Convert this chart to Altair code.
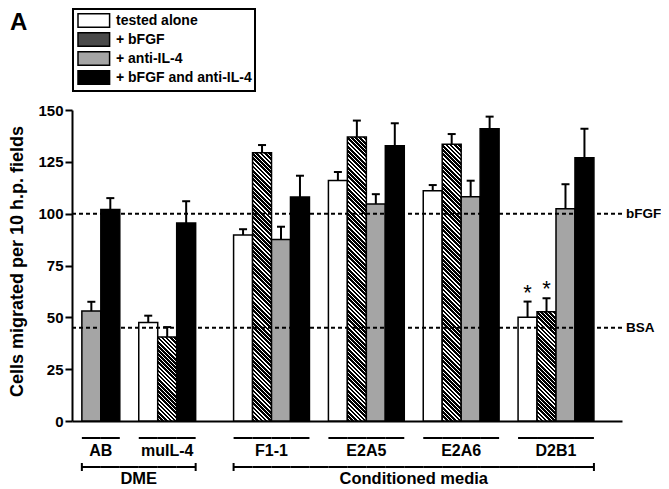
import altair as alt
import pandas as pd

# ---------------- data ----------------
groups = ["AB", "muIL-4", "F1-1", "E2A5", "E2A6", "D2B1"]
group_section = ["DME", "DME", "Conditioned media", "Conditioned media",
                 "Conditioned media", "Conditioned media"]
series = ["tested alone", "+ bFGF", "+ anti-IL-4", "+ bFGF and anti-IL-4"]

tested_alone      = [None, 47.5, 89.7, 116.0, 111.0, 50.0]
tested_alone_err  = [None, 3.3, 2.8, 4.1, 2.8, 7.6]
with_bfgf         = [None, 40.5, 129.4, 137.0, 133.5, 52.7]
with_bfgf_err     = [None, 4.8, 3.7, 7.9, 4.9, 6.5]
with_anti_il4     = [53.0, None, 87.6, 104.7, 108.2, 102.4]
with_anti_il4_err = [4.5, None, 6.1, 4.7, 7.7, 11.8]
with_both         = [102.0, 95.5, 108.0, 132.7, 141.0, 127.0]
with_both_err     = [5.5, 10.5, 10.3, 10.9, 5.8, 13.9]

significant = [("D2B1", "tested alone"), ("D2B1", "+ bFGF")]

ref_labels = ["bFGF", "BSA"]
ref_values = [100, 45]

y_ticks = [0, 25, 50, 75, 100, 125, 150]
y_title = "Cells migrated per 10 h.p. fields"
panel_label = "A"

# ---------------- layout / style ----------------
PLOT_W, PLOT_H, Y_MAX = 550, 311, 150
PAD_OUTER, ALIGN = 1, 0.26
FONT = "Liberation Sans"
fill_colors = ["#ffffff", "#4a4a4a", "#a5a5a5", "#000000"]

values = [tested_alone, with_bfgf, with_anti_il4, with_both]
errors = [tested_alone_err, with_bfgf_err, with_anti_il4_err, with_both_err]

rows, slot_domain, group_slots = [], [], {}
prev_sec, gap_n = None, 0
for gi, g in enumerate(groups):
    sec = group_section[gi]
    if gi > 0:
        for _ in range(1 if sec == prev_sec else 2):
            slot_domain.append(f"gap{gap_n}")
            gap_n += 1
    k = 0
    group_slots[g] = []
    for si, s in enumerate(series):
        v = values[si][gi]
        if v is None:
            continue
        slot = f"{g}|{k}"
        k += 1
        slot_domain.append(slot)
        group_slots[g].append(slot)
        e = errors[si][gi]
        rows.append(dict(group=g, section=sec, series=s, slot=slot, value=v,
                         err=e, top=v + e, sig=(g, s) in significant))
    prev_sec = sec
bars_df = pd.DataFrame(rows)

# section spans (contiguous slots incl. gaps inside a section)
sections = []
for sec in dict.fromkeys(group_section):
    idx = [slot_domain.index(sl) for g, gs in zip(groups, group_section) if gs == sec
           for sl in group_slots[g]]
    sections.append((sec, slot_domain[min(idx):max(idx) + 1]))

bracket_df = pd.DataFrame([dict(section=s, slot=sl) for s, span in sections for sl in span])
ends_df = pd.DataFrame([dict(section=s, first=span[0], last=span[-1]) for s, span in sections])


def anchor(slots):
    n = len(slots)
    return slots[n // 2], (0 if n % 2 == 0 else 0.5)


label_rows = []
for g in groups:
    a, bp = anchor(group_slots[g])
    label_rows.append(dict(text=g, anchor=a, bp=bp, kind="group"))
for s, span in sections:
    a, bp = anchor(span)
    label_rows.append(dict(text=s, anchor=a, bp=bp, kind="section"))
labels_df = pd.DataFrame(label_rows)

ref_df = pd.DataFrame({"label": ref_labels, "value": ref_values})
panel_df = pd.DataFrame({"panel": [panel_label]})

# ---------------- hatch gradients for "+ bFGF" bars ----------------
step = PLOT_W / (len(slot_domain) + 2 * PAD_OUTER)


def hatch(w, h, period=4.2, ink=0.64):
    k = (w + h) / (w * w + h * h)
    n = max(1, round((w + h) / period))
    stops = []
    for i in range(n):
        a, b, c = i / n, (i + ink) / n, (i + 1) / n
        stops += [{"offset": a, "color": "#000000"}, {"offset": b, "color": "#000000"},
                  {"offset": b, "color": "#ffffff"}, {"offset": c, "color": "#ffffff"}]
    return {"gradient": "linear", "x1": 0, "y1": 1, "x2": k * w, "y2": 1 - k * h,
            "stops": stops}


hatch_conditions = []
for r in rows:
    if r["series"] == "+ bFGF":
        h = r["value"] / Y_MAX * PLOT_H
        hatch_conditions.append({"test": f"datum.slot === '{r['slot']}'",
                                 "value": hatch(step, h)})

# ---------------- chart ----------------
x_scale = alt.Scale(domain=slot_domain, paddingInner=0, paddingOuter=PAD_OUTER, align=ALIGN)
y_scale = alt.Scale(domain=[0, Y_MAX], nice=False)

x_axis = alt.Axis(labels=False, ticks=False, title=None, grid=False,
                  domainColor="black", domainWidth=2)
y_axis = alt.Axis(values=y_ticks, title=y_title, grid=False, domainColor="black",
                  domainWidth=2, tickColor="black", tickWidth=2, tickSize=7,
                  labelPadding=2, labelFontSize=15, labelFontWeight="bold",
                  labelColor="black", titleFontSize=18, titleFontWeight="bold",
                  titleColor="black", titleX=-46, titleY=151, titleAngle=270,
                  titleBaseline="bottom", titleAlign="center")

legend = alt.Legend(orient="none", legendX=1, legendY=-101, title=None,
                    symbolType="M-0.84,-0.87H3.24V0.87H-0.84Z", symbolSize=240,
                    symbolStrokeColor="black", symbolStrokeWidth=1.5, symbolOpacity=1,
                    labelFontSize=14, labelFontWeight="bold", labelColor="black",
                    labelFont=FONT, labelOffset=23, padding=3, rowPadding=-2,
                    strokeColor="black", fillColor="white",
                    labelExpr="datum.label + '\u00a0'")


def X(field, **kw):
    return alt.X(f"{field}:N", scale=x_scale, axis=x_axis, **kw)


def Y(field):
    return alt.Y(f"{field}:Q", scale=y_scale, axis=y_axis)


bars = alt.Chart(bars_df).mark_bar(stroke="black", strokeWidth=1.5).encode(
    x=X("slot"),
    y=Y("value"),
    fill=alt.Fill("series:N", scale=alt.Scale(domain=series, range=fill_colors),
                  legend=legend, condition=hatch_conditions),
)

err_rules = alt.Chart(bars_df).mark_rule(color="black", strokeWidth=2).encode(
    x=X("slot"), y=Y("value"), y2="top:Q")

caps = alt.Chart(bars_df).mark_tick(color="black", size=8, thickness=2, opacity=1).encode(
    x=X("slot"), y=Y("top"))

ref_rules = alt.Chart(ref_df).mark_rule(color="black", strokeWidth=2, strokeDash=[4, 3]).encode(
    y=Y("value"))

ref_text = alt.Chart(ref_df).mark_text(align="left", baseline="middle", fontSize=13.5,
                                       fontWeight="bold", color="black").encode(
    x=alt.value(PLOT_W + 4), y=Y("value"), text="label:N")

stars = alt.Chart(bars_df).transform_filter("datum.sig").mark_text(
    text="*", fontSize=22, baseline="alphabetic", dy=-2, color="black").encode(
    x=X("slot"), y=Y("top"))

under = alt.Chart(bars_df).mark_rect(color="black").encode(
    x=X("slot"), y=alt.value(327), y2=alt.value(329))

bracket = alt.Chart(bracket_df).mark_rect(color="black").encode(
    x=X("slot"), y=alt.value(356), y2=alt.value(358))

end_l = alt.Chart(ends_df).mark_rule(color="black", strokeWidth=2).encode(
    x=X("first", bandPosition=0), y=alt.value(353), y2=alt.value(361))
end_r = alt.Chart(ends_df).mark_rule(color="black", strokeWidth=2).encode(
    x=X("last", bandPosition=1), y=alt.value(353), y2=alt.value(361))


def label_layer(bp, kind, ypix, size):
    return alt.Chart(labels_df).transform_filter(
        f"datum.bp == {bp} && datum.kind == '{kind}'").mark_text(
        baseline="alphabetic", align="center", fontSize=size, fontWeight="bold",
        color="black").encode(
        x=X("anchor", bandPosition=bp), y=alt.value(ypix), text="text:N")


lab_layers = [label_layer(bp, kind, y, s)
              for kind, y, s in [("group", 346, 16), ("section", 374, 16.5)]
              for bp in (0, 0.5)]

panel = alt.Chart(panel_df).mark_text(align="left", baseline="alphabetic", fontSize=24,
                                      fontWeight="bold", color="black").encode(
    x=alt.value(-62), y=alt.value(-80), text="panel:N")

chart = alt.layer(bars, err_rules, caps, ref_rules, ref_text, stars, under, bracket,
                  end_l, end_r, *lab_layers, panel).properties(
    width=PLOT_W, height=PLOT_H,
    padding={"left": 64, "top": 102, "right": 39, "bottom": 68},
    autosize=alt.AutoSizeParams(type="none"),
).configure(font=FONT).configure_view(strokeWidth=0).configure_legend(strokeWidth=2)

chart.save("out.html", embed_options={"renderer": "svg", "actions": False})
